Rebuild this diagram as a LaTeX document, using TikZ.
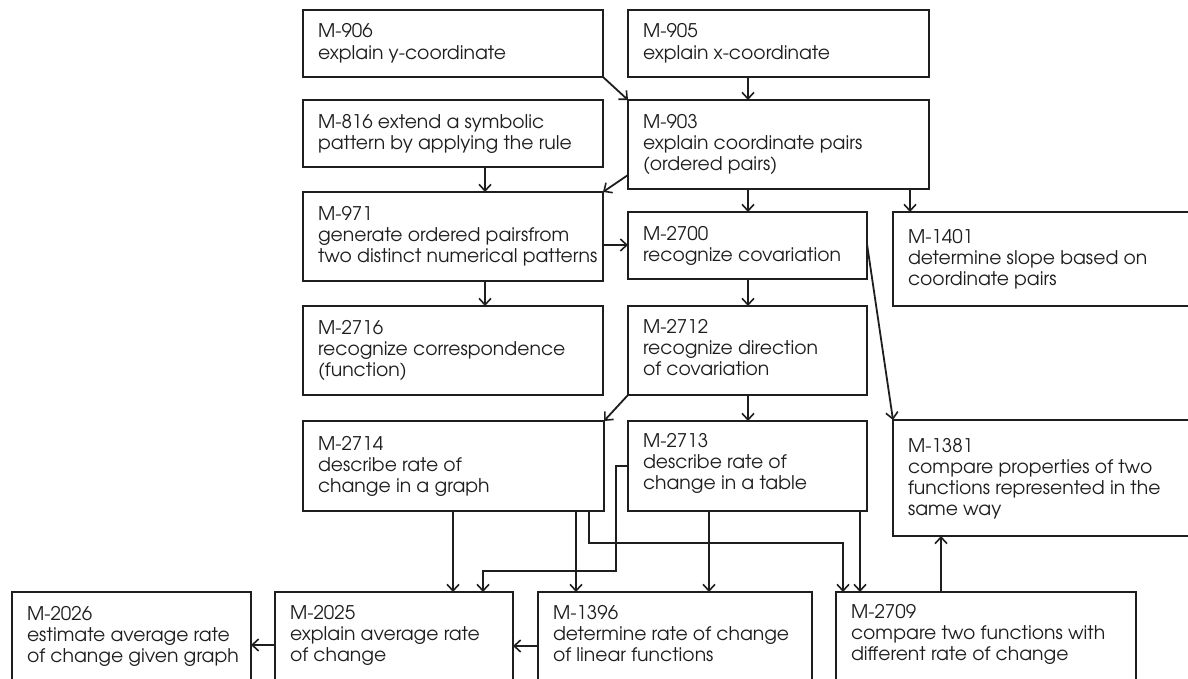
\documentclass[tikz,border=0pt]{standalone}
\usepackage{fontspec}
\setmainfont{TeX Gyre Adventor}
\usetikzlibrary{calc,arrows.meta}

\definecolor{ink}{HTML}{1E1E1E}

\tikzset{
  card/.style={draw=ink, line width=2bp, rectangle, inner sep=0pt, outer sep=0pt,
               anchor=north west},
  cardtext/.style={anchor=north west, inner sep=0pt, outer sep=0pt, align=left,
                   text=ink, font=\fontsize{18.8bp}{21.3bp}\selectfont},
  arr/.style={draw=ink, line width=1.8bp,
              -{Straight Barb[length=6.5bp,width=12bp,line width=1.6bp]}},
}

% \card{id}{x}{y}{width}{height}{first baseline below top}{text}
\newcommand\card[7]{%
  \node[card, minimum width=#4bp, minimum height=#5bp] (b#1) at (#2,#3) {};
  \node[cardtext] (t#1) at ($(b#1.north west)+(15,#6-17)$) {\rule{0pt}{17bp}#7};
}

\begin{document}
\begin{tikzpicture}[x=1bp,y=-1bp]
  \useasboundingbox (0,0) rectangle (1188,679);
  \clip (0,0) rectangle (1188,679);

  % concept cards
  \card{906}{303}{10}{300}{67}{28}{M-906\\explain y-coordinate}
  \card{905}{628}{10}{301}{67}{28}{M-905\\explain x-coordinate}
  \card{816}{303}{100}{300}{67}{28}{M-816 extend a symbolic\\pattern by applying the rule}
  \card{903}{628}{100}{301}{89}{28}{M-903\\explain coordinate pairs\\(ordered pairs)}
  \card{971}{303}{192}{300}{89}{28}{M-971\\generate ordered pairsfrom\\two distinct numerical patterns}
  \card{2700}{628}{212}{239}{67}{28}{M-2700\\recognize covariation}
  \card{1401}{893}{212}{305}{94}{31}{M-1401\\determine slope based on\\coordinate pairs}
  \card{2716}{303}{306}{300}{89}{28}{M-2716\\recognize correspondence\\(function)}
  \card{2712}{628}{306}{239}{89}{27}{M-2712\\recognize direction\\of covariation}
  \card{2714}{303}{421}{301}{90}{29}{M-2714\\describe rate of\\change in a graph}
  \card{2713}{628}{421}{239}{90}{26}{M-2713\\describe rate of\\change in a table}
  \card{1381}{893}{420}{305}{116}{32}{M-1381\\compare properties of two\\functions represented in the\\same way}
  \card{2026}{12}{592}{239}{100}{28}{M-2026\\estimate average rate\\of change given graph}
  \card{2025}{275}{592}{238}{100}{27}{M-2025\\explain average rate\\of change}
  \card{1396}{538}{592}{274}{100}{27}{M-1396\\determine rate of change\\of linear functions}
  \card{2709}{836}{592}{300}{100}{26}{M-2709\\compare two functions with\\different rate of change}

  % prerequisite links
  \draw[arr] (b906.south east) -- (b903.north west);
  \draw[arr] (b905.south -| 748,0) -- (b903.north -| 748,0);
  \draw[arr] (b816.south -| 485,0) -- (b971.north -| 485,0);
  \draw[arr] (b903.west |- 0,175) -- (b971.north east);
  \draw[arr] (b903.south -| 748,0) -- (b2700.north -| 748,0);
  \draw[arr] (b903.south -| 910,0) -- (b1401.north -| 910,0);
  \draw[arr] (b971.east |- 0,245) -- (b2700.west |- 0,245);
  \draw[arr] (b971.south -| 485,0) -- (b2716.north -| 485,0);
  \draw[arr] (b2700.south -| 748,0) -- (b2712.north -| 748,0);
  \draw[arr] (b2700.east |- 0,244) -- (b1381.north west);
  \draw[arr] (b2712.south west) -- (b2714.north east);
  \draw[arr] (b2712.south -| 748,0) -- (b2713.north -| 748,0);
  \draw[arr] (b2714.south -| 453,0) -- (b2025.north -| 453,0);
  \draw[arr] (b2714.south -| 576,0) -- (b1396.north -| 576,0);
  \draw[arr] (b2714.south -| 589,0) -- (589,543) -- (843,543) -- (b2709.north -| 843,0);
  \draw[arr] (b2713.west |- 0,466) -- (616,466) -- (616,571) -- (483,571) -- (b2025.north -| 483,0);
  \draw[arr] (b2713.south -| 709,0) -- (b1396.north -| 709,0);
  \draw[arr] (b2713.south -| 860,0) -- (b2709.north -| 860,0);
  \draw[arr] (b2709.north -| 941,0) -- (b1381.south -| 941,0);
  \draw[arr] (b1396.west |- 0,646) -- (b2025.east |- 0,646);
  \draw[arr] (b2025.west |- 0,645) -- (b2026.east |- 0,645);
\end{tikzpicture}
\end{document}
